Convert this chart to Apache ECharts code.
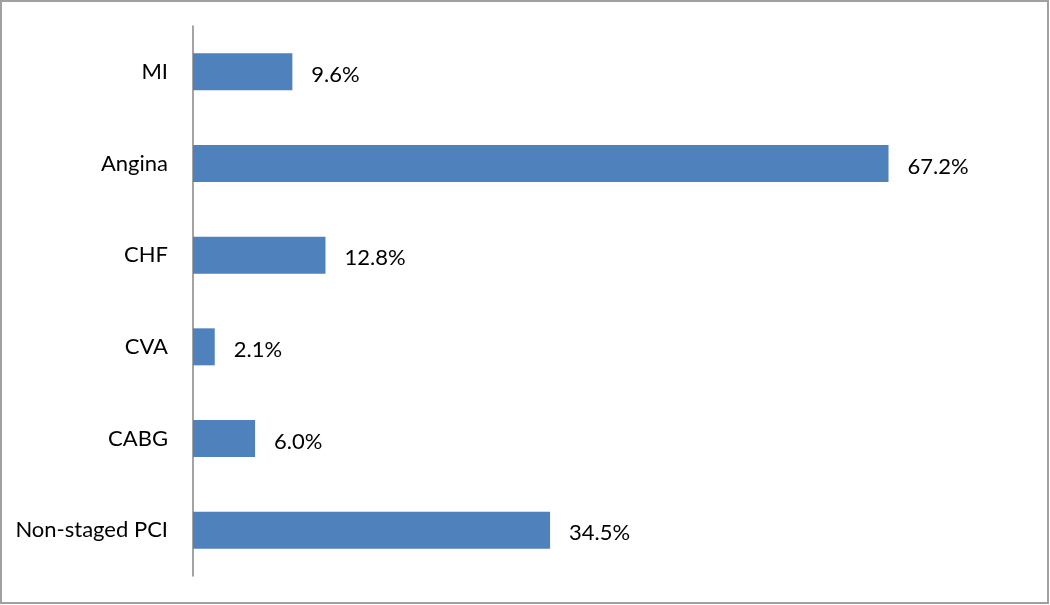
<!DOCTYPE html>
<html>
<head>
<meta charset="utf-8">
<style>html,body{margin:0;padding:0;background:#fff;}#chart{width:1050px;height:605px;}</style>
<script src="https://cdn.jsdelivr.net/npm/echarts@6/dist/echarts.min.js"></script>
</head>
<body>
<div id="chart"></div>
<script>
const categories = ["MI", "Angina", "CHF", "CVA", "CABG", "Non-staged PCI"];
const values = [9.6, 67.2, 12.8, 2.1, 6.0, 34.5];

const chart = echarts.init(document.getElementById('chart'), null, {renderer: 'canvas'});
const FONT = 'Lato, "Open Sans", sans-serif';
chart.setOption({
  animation: false,
  backgroundColor: '#ffffff',
  grid: {left: 193, right: 29, top: 26, bottom: 29, containLabel: false},
  xAxis: {
    type: 'value', min: 0, max: 80, show: false
  },
  yAxis: {
    type: 'category', data: categories, inverse: true,
    axisLine: {show: true, lineStyle: {color: '#868686', width: 1.5}},
    axisTick: {show: false},
    axisLabel: {color: '#000', fontSize: 22, fontFamily: FONT, margin: 25, padding: [5, 0, 0, 0]}
  },
  series: [{
    type: 'bar', data: values, barWidth: 37,
    itemStyle: {color: '#4f81bd'},
    label: {show: true, position: 'right', distance: 19, color: '#000', fontSize: 22, fontFamily: FONT,
      offset: [0, 3], formatter: p => p.value.toFixed(1) + '%'}
  }],
  graphic: [{type: 'rect', shape: {x: 1, y: 1, width: 1047, height: 602},
    style: {fill: 'none', stroke: '#a0a0a0', lineWidth: 2}, silent: true}]
});
</script>
</body>
</html>
